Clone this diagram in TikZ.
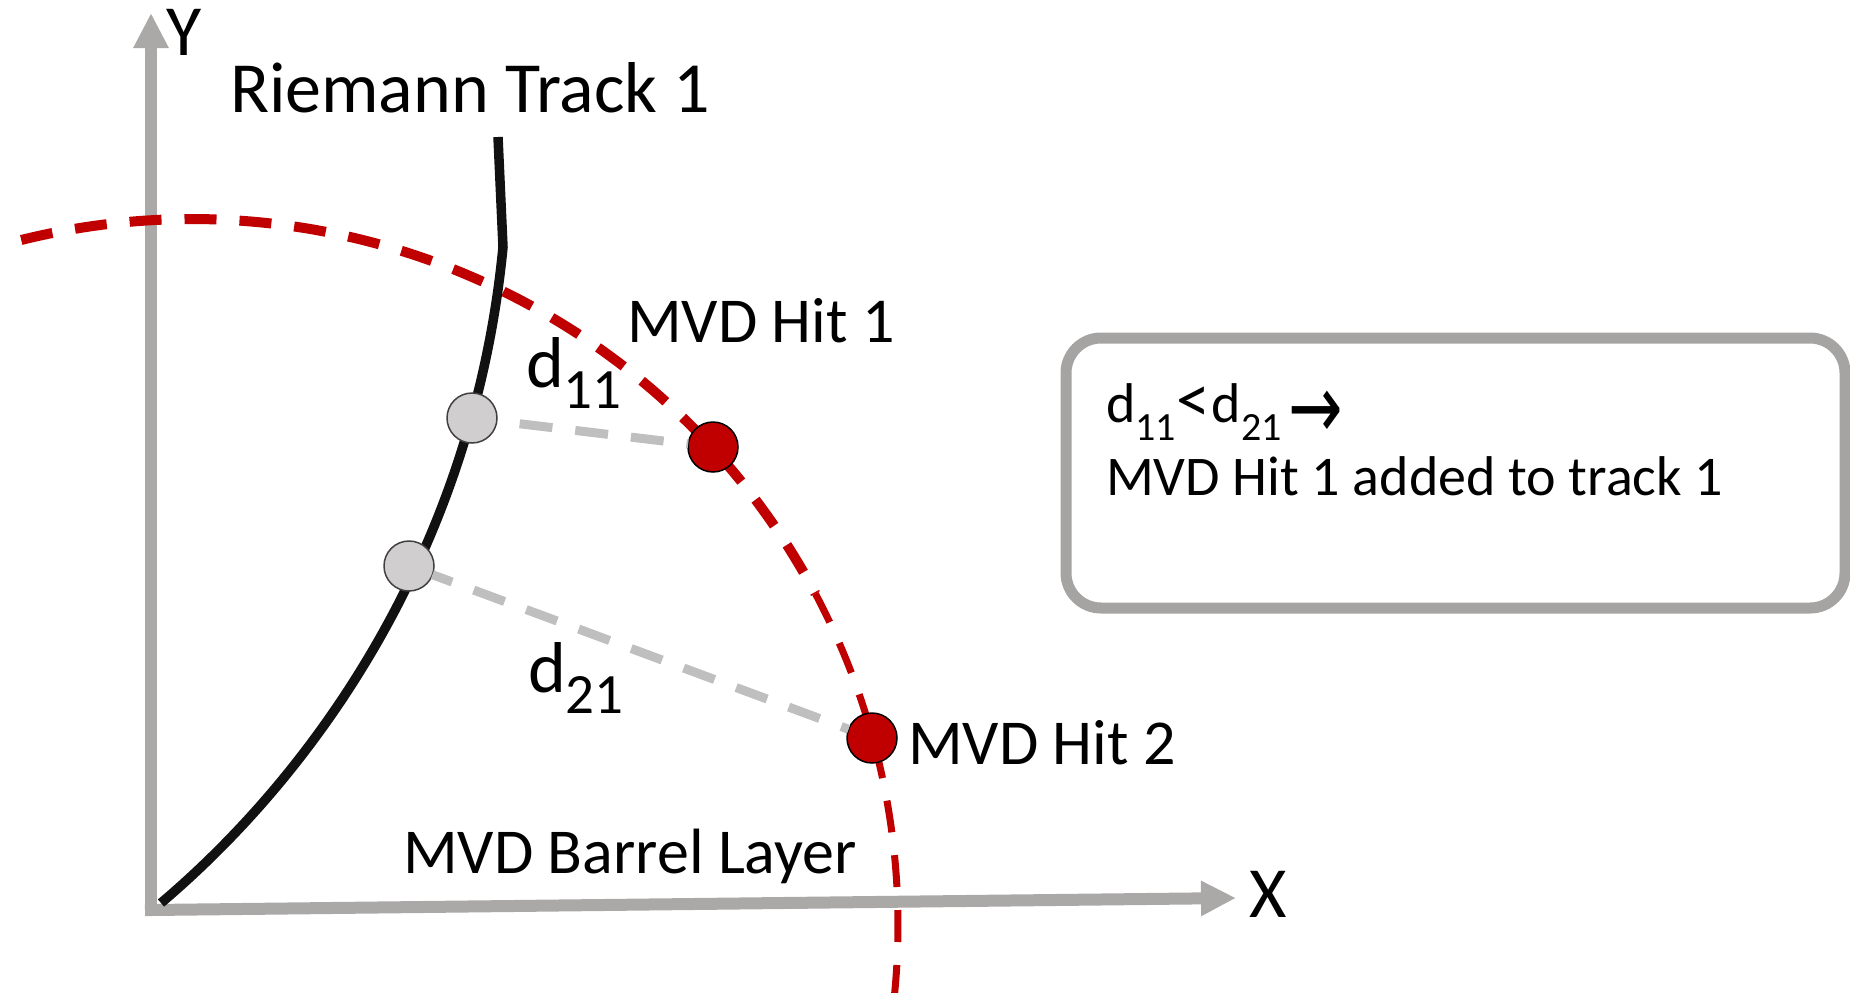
\documentclass[tikz,border=0pt]{standalone}
\usepackage{fontspec}
\setmainfont{Carlito}
\newfontfamily\arrowfont{DejaVu Sans}
\usetikzlibrary{arrows.meta,shadows}
\definecolor{axisgray}{RGB}{171,168,168}
\definecolor{hitred}{RGB}{192,0,0}
\definecolor{dashgray}{RGB}{191,191,191}
\definecolor{hitgray}{RGB}{208,206,206}
\definecolor{rimgray}{RGB}{64,64,64}
\definecolor{boxgray}{RGB}{166,163,163}
\definecolor{trackblack}{RGB}{17,17,17}
\newcommand\fsL{\fontsize{72}{80}\selectfont}
\newcommand\fsM{\fontsize{64}{74}\selectfont}
\newcommand\fsS{\fontsize{57}{60}\selectfont}
\newcommand\fsB{\fontsize{56}{62}\selectfont}
\newcommand\fsBs{\fontsize{40}{44}\selectfont}
\newcommand\mylt{{\fontsize{68}{70}\selectfont<}}
\newcommand\myarrow{{\arrowfont\fontsize{62}{70}\selectfont\raisebox{-16pt}{\scalebox{1.05}[1.45]{→}}}}
\begin{document}
\begin{tikzpicture}[x=1pt,y=-1pt,
  axis/.style={draw=axisgray, line width=12pt, line cap=rect, -{Triangle[length=35pt,width=33pt]}},
  layer/.style={draw=hitred, dash pattern=on 32pt off 23pt},
  track/.style={draw=trackblack, line width=9.5pt},
  dist/.style={draw=dashgray, line width=9pt, dash pattern=on 33pt off 23pt},
  hit/.style={circle, fill=hitred, draw=black, line width=1.5pt, minimum size=50pt, inner sep=0pt, outer sep=0pt},
  seed/.style={circle, fill=hitgray, draw=rimgray, line width=1.5pt, minimum size=50pt, inner sep=0pt, outer sep=0pt},
  lbl/.style={inner sep=0pt, outer sep=0pt, anchor=base west},
  infobox/.style={draw=boxgray, line width=11pt, rounded corners=35pt, fill=white, inner sep=0pt,
    minimum width=779pt, minimum height=270pt,
    drop shadow={shadow xshift=2pt, shadow yshift=-5pt, fill=black, opacity=0.12}}]
\useasboundingbox (0,0) rectangle (1850,993);

% axes
\coordinate (origin) at (151,910);
\coordinate (ytip) at (151,13);
\coordinate (xtip) at (1236,898);
\draw[axis] (origin) -- (ytip);
\draw[axis] (origin) -- (xtip);

% MVD barrel layer (dashed arc)
\draw[layer, line width=10pt] plot[domain=-104:-28, samples=90] ({192+706*cos(\x)},{925+706*sin(\x)});
\draw[layer, line width=7pt] plot[domain=-28:5.6, samples=40] ({192+706*cos(\x)},{925+706*sin(\x)});

% Riemann track
\coordinate (ttop) at (498,137);
\coordinate (tbend) at (503,247);
\coordinate (tend) at (161,903);
\draw[track] (ttop) -- (tbend) .. controls (474,547) and (318,770) .. (tend);

% points
\node[seed] (c1) at (472,418) {};
\node[seed] (c2) at (409,566) {};
\node[hit] (h1) at (713,447) {};
\node[hit] (h2) at (872,738) {};

% distances
\draw[dist, dash phase=33pt] (c1) -- (h1);
\draw[dist, dash phase=12pt] (c2) -- (h2);

% labels
\node[lbl, font=\fsL] (ylabel) at (166,55) {Y};
\node[lbl, font=\fsL] (xlabel) at (1249,917) {X};
\node[lbl, font=\fsL] (title) at (230,112) {Riemann Track 1};
\node[lbl, font=\fsM] (hit1lbl) at (627,342) {MVD Hit 1};
\node[lbl, font=\fsM] (hit2lbl) at (908,764) {MVD Hit 2};
\node[lbl, font=\fsM] (layerlbl) at (403,873) {MVD Barrel Layer};
\node[lbl, font=\fsL] (d11) at (526,387) {d\raisebox{-21pt}{\fsS 11}};
\node[lbl, font=\fsL] (d21) at (528,692) {d\raisebox{-21pt}{\fsS 21}};

% info box
\node[infobox] (box) at (1455.5,473) {};
\node[lbl, font=\fsB] (cond) at (1106,422) {d\raisebox{-18pt}{\fsBs 11}\kern1pt\mylt\kern1pt d\raisebox{-18pt}{\fsBs 21}\kern7pt\myarrow};
\node[lbl, font=\fsB] (result) at (1106,495) {MVD Hit 1 added to track 1};
\end{tikzpicture}
\end{document}
